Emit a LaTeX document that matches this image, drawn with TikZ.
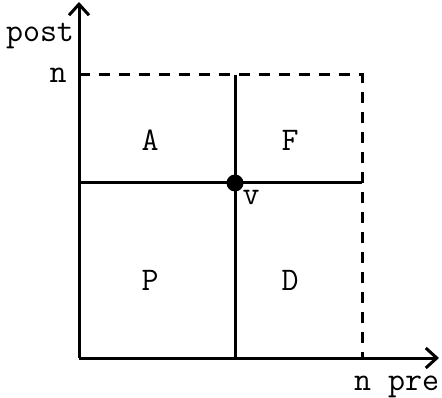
\documentclass[tikz,border=0pt]{standalone}
\usetikzlibrary{arrows.meta}
\begin{document}
\begin{tikzpicture}[x=1pt,y=1pt,
  lbl/.style={font=\fontsize{33}{35}\ttfamily\selectfont, inner sep=0pt},
  axis/.style={line width=3pt, -{Straight Barb[length=11pt,width=20pt,line width=3pt]}},
  solid line/.style={line width=3pt},
  dash line/.style={line width=3pt, dash pattern=on 11pt off 9pt}]
\useasboundingbox (0,0) rectangle (442,397);
\coordinate (O) at (79,39);
\coordinate (ytip) at (79,395);
\coordinate (xtip) at (439,39);
\coordinate (yn) at (79,322);
\coordinate (xn) at (362,39);
\coordinate (nn) at (362,322);
\coordinate (vb) at (235,39);
\coordinate (vt) at (235,322);
\coordinate (hl) at (79,214);
\coordinate (hr) at (362,214);
\draw[dash line] (yn) -- (nn) -- (xn);
\draw[solid line] (vb) -- (vt);
\draw[solid line] (hl) -- (hr);
\draw[axis] (O) -- (ytip);
\draw[axis] (O) -- (xtip);
\fill (235,214) circle (8.5pt) coordinate (v);
\node[lbl] (A) at (150,257) {A};
\node[lbl] (F) at (290,257) {F};
\node[lbl] (P) at (150,117) {P};
\node[lbl] (D) at (290,117) {D};
\node[lbl, anchor=base] (vl) at (251,193) {v};
\node[lbl, anchor=base] (post) at (40,355) {post};
\node[lbl, anchor=base] (nl) at (58,314) {n};
\node[lbl, anchor=base west] (npre) at (354,7) {n pre};
\end{tikzpicture}
\end{document}
